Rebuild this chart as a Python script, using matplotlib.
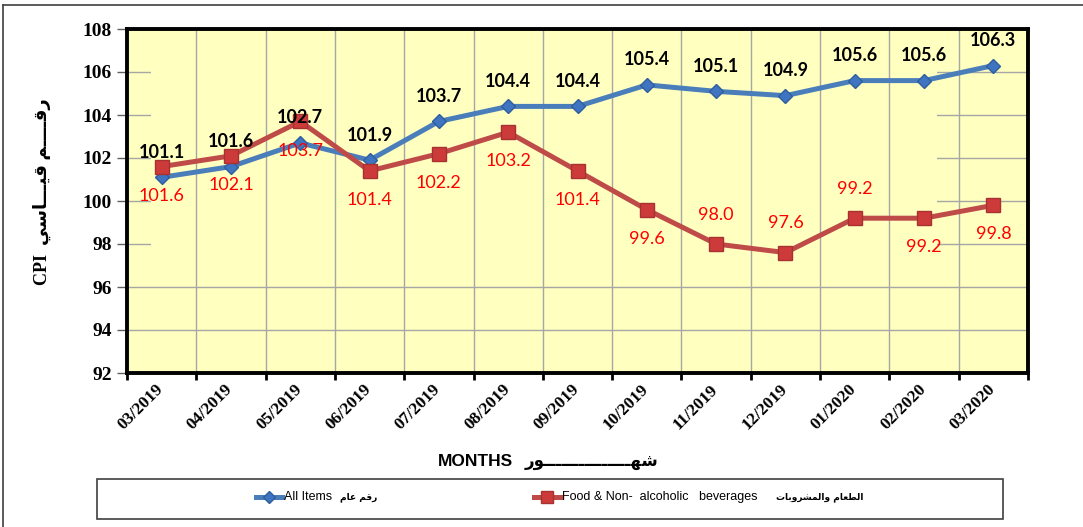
import matplotlib
matplotlib.use("Agg")
import matplotlib.pyplot as plt
import matplotlib.transforms as mtransforms
from matplotlib.patches import Rectangle
from matplotlib.lines import Line2D

# ---------------- data ----------------
months = ["03/2019", "04/2019", "05/2019", "06/2019", "07/2019", "08/2019", "09/2019",
          "10/2019", "11/2019", "12/2019", "01/2020", "02/2020", "03/2020"]
all_items = [101.1, 101.6, 102.7, 101.9, 103.7, 104.4, 104.4, 105.4, 105.1, 104.9, 105.6, 105.6, 106.3]
food = [101.6, 102.1, 103.7, 101.4, 102.2, 103.2, 101.4, 99.6, 98.0, 97.6, 99.2, 99.2, 99.8]
y_ticks = [92, 94, 96, 98, 100, 102, 104, 106, 108]

# label placement for food series: +1 above, -1 below (style only)
food_side = [-1, -1, -1, -1, -1, -1, -1, -1, 1, 1, 1, -1, -1]

# ---------------- minimal Arabic shaping ----------------
FORMS = {
    '\u0627': ('\uFE8D', '\uFE8E', None, None),
    '\u0628': ('\uFE8F', '\uFE90', '\uFE91', '\uFE92'),
    '\u062A': ('\uFE95', '\uFE96', '\uFE97', '\uFE98'),
    '\u0631': ('\uFEAD', '\uFEAE', None, None),
    '\u0633': ('\uFEB1', '\uFEB2', '\uFEB3', '\uFEB4'),
    '\u0634': ('\uFEB5', '\uFEB6', '\uFEB7', '\uFEB8'),
    '\u0637': ('\uFEC1', '\uFEC2', '\uFEC3', '\uFEC4'),
    '\u0639': ('\uFEC9', '\uFECA', '\uFECB', '\uFECC'),
    '\u0642': ('\uFED5', '\uFED6', '\uFED7', '\uFED8'),
    '\u0644': ('\uFEDD', '\uFEDE', '\uFEDF', '\uFEE0'),
    '\u0645': ('\uFEE1', '\uFEE2', '\uFEE3', '\uFEE4'),
    '\u0647': ('\uFEE9', '\uFEEA', '\uFEEB', '\uFEEC'),
    '\u0648': ('\uFEED', '\uFEEE', None, None),
    '\u064A': ('\uFEF1', '\uFEF2', '\uFEF3', '\uFEF4'),
    '\u0640': ('\u0640', '\u0640', '\u0640', '\u0640'),
}


def dual(c):
    return c in FORMS and FORMS[c][2] is not None


def shape(text):
    out = []
    n = len(text)
    for i, c in enumerate(text):
        if c not in FORMS:
            out.append(c)
            continue
        prev_join = i > 0 and dual(text[i - 1])
        next_join = dual(c) and i < n - 1 and text[i + 1] in FORMS
        iso, fin, ini, med = FORMS[c]
        if prev_join and next_join:
            out.append(med)
        elif prev_join:
            out.append(fin)
        elif next_join:
            out.append(ini)
        else:
            out.append(iso)
    return ''.join(reversed(out))


ar_ylabel = shape("رقــــم قيـــاسي")
ar_months = shape("شهـــــــــــــــور")
ar_all = shape("رقم عام")
ar_food = shape("الطعام والمشروبات")

# ---------------- figure ----------------
W, H = 1083, 527
fig = plt.figure(figsize=(W / 100, H / 100), dpi=100)
fig.patch.set_facecolor("white")


def fx(px):
    return px / W


def fy(py):
    return 1 - py / H


ax = fig.add_axes([fx(127), fy(373), fx(1028) - fx(127), fy(29) - fy(373)])
ax.set_facecolor("#FFFFC0")

x = list(range(len(months)))
ax.set_xlim(-0.5, len(months) - 0.5)
ax.set_ylim(92, 108)

# grid
for yv in y_ticks[1:-1]:
    ax.axhline(yv, color="#A6A6A6", lw=1.0, zorder=1)
ax.add_patch(Rectangle((0.027, 0.305), 0.872, 0.582, transform=ax.transAxes,
                       facecolor="#FFFFC0", edgecolor="none", zorder=1.5))
for b in range(1, len(months)):
    ax.axvline(b - 0.5, color="#A6A6A6", lw=1.0, zorder=2)

# lines
blue = "#4A7EBB"
red = "#BE4B48"
ax.plot(x, all_items, color=blue, lw=3.6, marker="D", markersize=7,
        markerfacecolor="#3F74C0", markeredgecolor="#2E5E9E", zorder=4)
ax.plot(x, food, color=red, lw=3.6, marker="s", markersize=10,
        markerfacecolor="#CC3A3A", markeredgecolor="#A83232", zorder=5)

# data labels
for xi, v in zip(x, all_items):
    ax.annotate(f"{v:.1f}", (xi, v), xytext=(0, 18), textcoords="offset points",
                ha="center", va="center", fontsize=13, fontweight="bold",
                family="Lato", color="black", zorder=6)
for xi, v, s in zip(x, food, food_side):
    ax.annotate(f"{v:.1f}", (xi, v), xytext=(0, 21 * s), textcoords="offset points",
                ha="center", va="center", fontsize=13, family="Lato",
                color="#FF0000", zorder=6)

# ticks
ax.set_yticks(y_ticks)
ax.set_yticklabels([str(t) for t in y_ticks], fontsize=14, fontweight="bold",
                   family="Liberation Serif")
ax.set_xticks([b - 0.5 for b in range(len(months) + 1)], minor=False)
ax.set_xticklabels([])
ax.tick_params(axis="x", which="major", length=5, width=2, color="black", direction="out")
ax.tick_params(axis="y", length=7, width=1, color="#606060", direction="out", pad=4)
ax.set_xticks(x, minor=True)
ax.set_xticklabels(months, minor=True, rotation=45, ha="right", rotation_mode="default",
                   fontsize=12.5, fontweight="bold", family="Liberation Serif")
ax.tick_params(axis="x", which="minor", length=0, pad=6)
shift = mtransforms.ScaledTranslation(5 / 100, 0, fig.dpi_scale_trans)
for lab in ax.get_xticklabels(minor=True):
    lab.set_transform(lab.get_transform() + shift)

for sp in ax.spines.values():
    sp.set_linewidth(2.8)
    sp.set_color("black")

# y label
fig.text(fx(42), fy(192), "CPI  " + ar_ylabel, rotation=90, ha="center", va="center",
         fontsize=13, fontweight="bold", family=["Liberation Serif", "DejaVu Sans"])

# x label
fig.text(fx(475), fy(461), "MONTHS", ha="center", va="center", fontsize=12.5,
         fontweight="bold", family="Liberation Sans")
fig.text(fx(592), fy(461), ar_months, ha="center", va="center", fontsize=12,
         fontweight="bold", family="DejaVu Sans")

# outer frame
fig.add_artist(Line2D([fx(3), 1], [fy(5), fy(5)], color="#404040", lw=1.2))
fig.add_artist(Line2D([fx(3), fx(3)], [fy(5), 0], color="#404040", lw=1.2))

# legend box (manual)
fig.add_artist(Rectangle((fx(97), fy(519)), fx(1003) - fx(97), fy(479) - fy(519),
                         facecolor="white", edgecolor="#404040", lw=1.2))
ly = fy(497)
fig.add_artist(Line2D([fx(256), fx(282)], [ly, ly], color=blue, lw=3.6))
fig.add_artist(Line2D([fx(269)], [ly], color=blue, marker="D", markersize=6,
                      markerfacecolor="#3F74C0", markeredgecolor="#2E5E9E"))
fig.text(fx(284), ly, "All Items", ha="left", va="center", fontsize=9,
         family="Liberation Sans")
fig.text(fx(340), ly, ar_all, ha="left", va="center", fontsize=6.5,
         fontweight="bold", family="DejaVu Sans")
fig.add_artist(Line2D([fx(534), fx(561)], [ly, ly], color=red, lw=3.6))
fig.add_artist(Line2D([fx(547)], [ly], color=red, marker="s", markersize=8,
                      markerfacecolor="#CC3A3A", markeredgecolor="#A83232"))
fig.text(fx(562), ly, "Food & Non-  alcoholic   beverages", ha="left", va="center",
         fontsize=9, family="Liberation Sans")
fig.text(fx(776), ly, ar_food, ha="left", va="center", fontsize=6.5,
         fontweight="bold", family="DejaVu Sans")

fig.savefig("out.png", dpi=100)
